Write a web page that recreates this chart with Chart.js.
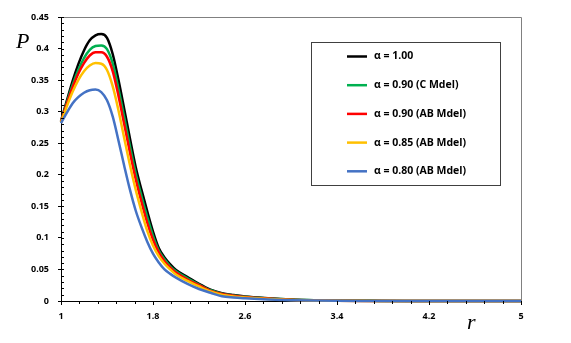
<!DOCTYPE html>
<html>
<head>
<meta charset="utf-8">
<script src="https://cdn.jsdelivr.net/npm/chart.js@4/dist/chart.umd.min.js"></script>
<style>
  html, body { margin: 0; padding: 0; background: #fff; }
  #wrap { width: 571px; height: 343px; }
</style>
</head>
<body>
<div id="wrap"><canvas id="myChart" width="571" height="343"></canvas></div>
<script>
// r values (x) shared by every curve
const rVals = [1.0, 1.05, 1.1, 1.15, 1.2, 1.25, 1.3, 1.35, 1.4, 1.45, 1.5, 1.55, 1.6, 1.65, 1.7, 1.75, 1.8, 1.85, 1.9, 1.95, 2.0,
               2.1, 2.2, 2.3, 2.4, 2.5, 2.6, 2.8, 3.0, 3.2, 3.4, 3.7, 4.0, 5.0];

const pAlpha100 = [0.285, 0.317, 0.348, 0.375, 0.397, 0.413, 0.421, 0.423, 0.417, 0.391, 0.350, 0.304, 0.257, 0.212, 0.176, 0.142, 0.110, 0.084, 0.069, 0.058, 0.049,
                   0.038, 0.027, 0.018, 0.0125, 0.0095, 0.0072, 0.0045, 0.0025, 0.0013, 0.0006, 0.0002, 0, 0];
const pAlpha090C = [0.284, 0.314, 0.342, 0.366, 0.385, 0.398, 0.404, 0.405, 0.399, 0.376, 0.336, 0.291, 0.245, 0.202, 0.166, 0.133, 0.103, 0.080, 0.066, 0.055, 0.047,
                    0.036, 0.026, 0.017, 0.0115, 0.0088, 0.0067, 0.0042, 0.0023, 0.0012, 0.0005, 0.0002, 0, 0];
const pAlpha090AB = [0.284, 0.312, 0.338, 0.360, 0.377, 0.389, 0.394, 0.394, 0.387, 0.364, 0.325, 0.280, 0.235, 0.193, 0.157, 0.124, 0.097, 0.077, 0.063, 0.053, 0.045,
                     0.034, 0.025, 0.016, 0.011, 0.0082, 0.0062, 0.0038, 0.002, 0.001, 0.0005, 0.0001, 0, 0];
const pAlpha085AB = [0.283, 0.308, 0.331, 0.350, 0.364, 0.373, 0.377, 0.376, 0.366, 0.340, 0.302, 0.258, 0.215, 0.176, 0.142, 0.111, 0.088, 0.071, 0.059, 0.050, 0.042,
                     0.032, 0.023, 0.015, 0.010, 0.0072, 0.0055, 0.0033, 0.0017, 0.0009, 0.0004, 0.0001, 0, 0];
const pAlpha080AB = [0.282, 0.298, 0.313, 0.323, 0.330, 0.334, 0.335, 0.331, 0.318, 0.292, 0.254, 0.214, 0.176, 0.143, 0.117, 0.094, 0.075, 0.061, 0.050, 0.043, 0.037,
                     0.027, 0.019, 0.013, 0.0075, 0.0055, 0.0043, 0.0025, 0.0013, 0.0006, 0.0002, 0.0001, 0, 0];

const seriesLabels = ['α = 1.00', 'α = 0.90 (C Mdel)', 'α = 0.90 (AB Mdel)', 'α = 0.85 (AB Mdel)', 'α = 0.80 (AB Mdel)'];
const seriesColors = ['#000000', '#00b050', '#ff0000', '#ffc000', '#4472c4'];
const seriesValues = [pAlpha100, pAlpha090C, pAlpha090AB, pAlpha085AB, pAlpha080AB];

// axis range / ticks
const xMin = 1, xMax = 5, xStep = 0.8, xMinorStep = 0.16;
const yMin = 0, yMax = 0.45, yStep = 0.05, yMinorStep = 0.01;

const toPoints = (vals) => vals.map((v, i) => ({ x: rVals[i], y: v }));

const datasets = seriesValues.map((vals, i) => ({
    label: seriesLabels[i],
    data: toPoints(vals),
    borderColor: seriesColors[i],
    backgroundColor: seriesColors[i],
    borderWidth: 2.5,
    pointRadius: 0,
    showLine: true,
    fill: false,
    cubicInterpolationMode: 'monotone',
    order: seriesValues.length - 1 - i,
    clip: 4
}));

const extras = {
    id: 'extras',
    afterDraw(chart) {
        const { ctx, chartArea: a, scales: { x, y } } = chart;
        ctx.save();
        // frame top + right
        ctx.strokeStyle = '#808080';
        ctx.lineWidth = 1;
        ctx.beginPath();
        ctx.moveTo(a.left, a.top + 0.5);
        ctx.lineTo(a.right + 0.5, a.top + 0.5);
        ctx.lineTo(a.right + 0.5, a.bottom);
        ctx.stroke();

        // minor ticks
        ctx.strokeStyle = '#000';
        ctx.beginPath();
        for (let k = 1; xMin + k * xMinorStep < xMax - 1e-9; k++) {
            const px = Math.round(x.getPixelForValue(xMin + k * xMinorStep)) + 0.5;
            ctx.moveTo(px, a.bottom);
            ctx.lineTo(px, a.bottom + 3);
        }
        for (let k = 1; yMin + k * yMinorStep < yMax + 1e-9; k++) {
            const py = Math.round(y.getPixelForValue(yMin + k * yMinorStep)) + 0.5;
            ctx.moveTo(a.left, py);
            ctx.lineTo(a.left + 3, py);
        }
        ctx.stroke();

        // axis titles
        ctx.fillStyle = '#000';
        ctx.font = 'italic 22px "Liberation Serif"';
        ctx.textAlign = 'left';
        ctx.textBaseline = 'alphabetic';
        ctx.fillText('P', 16, 48);
        ctx.fillText('r', 467, 329);

        // legend box
        const bx = 311, by = 42, bw = 189, bh = 143;
        ctx.strokeStyle = '#404040';
        ctx.strokeRect(bx + 0.5, by + 0.5, bw, bh);
        ctx.font = 'bold 10.5px "Open Sans"';
        ctx.textBaseline = 'middle';
        chart.data.datasets.forEach((ds, i) => {
            const ly = 56.5 + i * 28.7;
            ctx.strokeStyle = ds.borderColor;
            ctx.lineWidth = 2.5;
            ctx.beginPath();
            ctx.moveTo(347, ly);
            ctx.lineTo(367, ly);
            ctx.stroke();
            ctx.fillStyle = '#000';
            ctx.fillText(ds.label, 374, ly);
        });
        ctx.restore();
    }
};

const config = {
    type: 'scatter',
    data: { datasets: datasets },
    options: {
        responsive: false,
        animation: false,
        layout: { padding: { left: 0, right: 50, top: 17, bottom: 0 } },
        plugins: {
            legend: { display: false },
            tooltip: { enabled: false }
        },
        scales: {
            x: {
                type: 'linear',
                min: xMin,
                max: xMax,
                afterFit: (scale) => { scale.height = 42; },
                ticks: {
                    stepSize: xStep,
                    color: '#000',
                    padding: 6,
                    maxRotation: 0,
                    font: { family: 'Open Sans', size: 9, weight: 'bold' },
                    callback: (v) => String(Number(v.toFixed(2)))
                },
                grid: { drawOnChartArea: false, tickLength: 4, color: '#000' },
                border: { color: '#000', width: 1 }
            },
            y: {
                type: 'linear',
                min: yMin,
                max: yMax,
                afterFit: (scale) => { scale.width = 61; },
                ticks: {
                    stepSize: yStep,
                    color: '#000',
                    padding: 9,
                    font: { family: 'Open Sans', size: 9, weight: 'bold' },
                    callback: (v) => String(Number(v.toFixed(2)))
                },
                grid: { drawOnChartArea: false, tickLength: 3, color: '#000' },
                border: { color: '#000', width: 1 }
            }
        }
    },
    plugins: [extras]
};

const ctx = document.getElementById('myChart').getContext('2d');
const chart = new Chart(ctx, config);
</script>
</body>
</html>
